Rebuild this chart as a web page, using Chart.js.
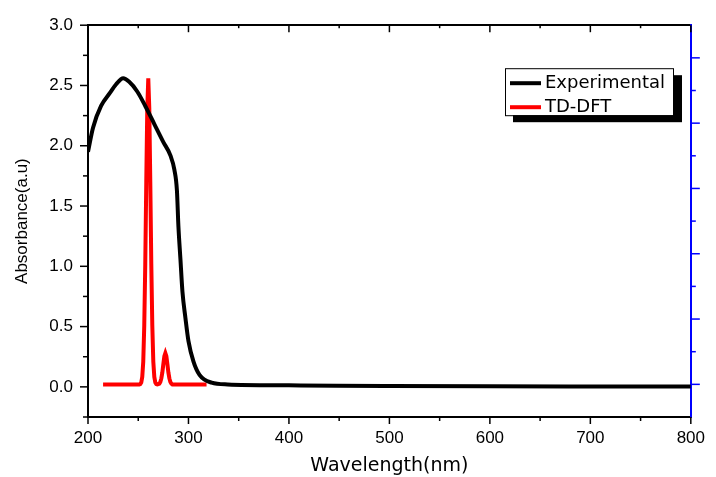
<!DOCTYPE html>
<html>
<head>
<meta charset="utf-8">
<script src="https://cdn.jsdelivr.net/npm/chart.js@4.4.1/dist/chart.umd.min.js"></script>
<style>
  body { margin: 0; background: #fff; }
  #wrap { width: 716px; height: 477px; }
</style>
</head>
<body>
<div id="wrap"><canvas id="spectrum" width="716" height="477"></canvas></div>
<script>
// measured spectrum (black)
const expWavelength = [200, 205, 213, 222, 228, 235, 241, 249, 257, 266, 275, 282, 286, 288.5, 290, 292, 294, 297, 300, 305, 311, 323, 339, 400, 447, 500, 600, 700, 800];
const expAbsorbance = [1.95, 2.15, 2.33, 2.44, 2.51, 2.56, 2.53, 2.45, 2.33, 2.18, 2.03, 1.92, 1.80, 1.63, 1.33, 1.06, 0.79, 0.57, 0.38, 0.21, 0.10, 0.035, 0.02, 0.013, 0.01, 0.008, 0.005, 0.003, 0.002];

// computed spectrum (red)
const dftWavelength = [215, 251, 252, 253, 254, 255, 256, 257, 258, 259, 260, 261, 262, 263, 264, 265, 266, 267, 268, 269, 270, 271, 272, 273, 274, 275, 276, 277, 278, 279, 280, 281, 282, 283, 284, 318];
const dftAbsorbance = [0.02, 0.02, 0.023, 0.036, 0.082, 0.21, 0.51, 1.02, 1.70, 2.31, 2.56, 2.31, 1.70, 1.02, 0.51, 0.21, 0.082, 0.036, 0.023, 0.02, 0.022, 0.026, 0.04, 0.07, 0.12, 0.19, 0.255, 0.28, 0.255, 0.19, 0.12, 0.07, 0.04, 0.026, 0.02, 0.02];

const seriesNames = ['Experimental', 'TD-DFT'];
const xTickLabels = [200, 300, 400, 500, 600, 700, 800];
const yTickLabels = [0.0, 0.5, 1.0, 1.5, 2.0, 2.5, 3.0];

const toPoints = (xs, ys) => xs.map((x, i) => ({x: x, y: ys[i]}));

//draws the small tick marks (major + minor) on all four sides
function drawMarks(ctx, scale, from, to, step, major, base, sign, bigLen, smallLen) {
	for (let v = from; v <= to + 1e-9; v += step) {
		const r = v / major;
		const isMajor = Math.abs(r - Math.round(r)) < 1e-6;
		const len = isMajor ? bigLen : smallLen;
		const p = scale.getPixelForValue(v);
		ctx.beginPath();
		if (scale.isHorizontal()) {
			ctx.moveTo(p, base);
			ctx.lineTo(p, base + sign * len);
		} else {
			ctx.moveTo(base, p);
			ctx.lineTo(base + sign * len, p);
		}
		ctx.stroke();
	}
}

const tickMarks = {
	id: 'tickMarks',
	afterDraw(chart) {
		const ctx = chart.ctx;
		const area = chart.chartArea;
		const s = chart.scales;
		ctx.save();
		ctx.lineWidth = 1.5;
		ctx.strokeStyle = '#000';
		drawMarks(ctx, s.x, 200, 800, 50, 100, area.bottom, 1, 7, 4);
		drawMarks(ctx, s.x2, 200, 800, 50, 100, area.top, 1, 7, 3);
		drawMarks(ctx, s.y, -0.25, 3.0, 0.25, 0.5, area.left, -1, 8, 5);
		ctx.strokeStyle = '#0000ff';
		drawMarks(ctx, s.y2, 0, 5, 0.5, 1, area.right, 1, 9, 5);
		ctx.restore();
	}
};

// boxed legend with a drop shadow, top right of the plot
const boxLegend = {
	id: 'boxLegend',
	afterDraw(chart) {
		const ctx = chart.ctx;
		const area = chart.chartArea;
		const bx = area.left + 417, by = area.top + 43, bw = 168, bh = 47;
		ctx.save();
		ctx.fillStyle = '#000';
		ctx.fillRect(bx + 8, by + 7, bw + 1, bh);
		ctx.fillStyle = '#fff';
		ctx.fillRect(bx, by, bw, bh);
		ctx.lineWidth = 1;
		ctx.strokeStyle = '#000';
		ctx.strokeRect(bx + 0.5, by + 0.5, bw, bh);
		ctx.font = '18px "DejaVu Sans"';
		ctx.textBaseline = 'middle';
		chart.data.datasets.forEach((ds, i) => {
			const ly = by + 15 + i * 24;
			ctx.strokeStyle = ds.borderColor;
			ctx.lineWidth = 4;
			ctx.beginPath();
			ctx.moveTo(bx + 5, ly);
			ctx.lineTo(bx + 36, ly);
			ctx.stroke();
			ctx.fillStyle = '#000';
			ctx.fillText(ds.label, bx + 40, ly);
		});
		ctx.restore();
	}
};

const tickFont = {family: '"Liberation Sans", Arial, sans-serif', size: 17};

new Chart(document.getElementById('spectrum').getContext('2d'), {
	type: 'line',
	data: {
		datasets: [{
			label: seriesNames[0],
			data: toPoints(expWavelength, expAbsorbance),
			borderColor: '#000000',
			borderWidth: 4,
			pointRadius: 0,
			cubicInterpolationMode: 'monotone',
			fill: false
		}, {
			label: seriesNames[1],
			data: toPoints(dftWavelength, dftAbsorbance),
			borderColor: '#ff0000',
			borderWidth: 4,
			pointRadius: 0,
			tension: 0,
			fill: false
		}]
	},
	options: {
		responsive: false,
		animation: false,
		layout: {padding: 0},
		plugins: {legend: {display: false}, tooltip: {enabled: false}},
		scales: {
			x: {
				type: 'linear', position: 'bottom', min: 200, max: 800,
				afterFit: (s) => { s.height = 60; },
				afterBuildTicks: (s) => { s.ticks = xTickLabels.map(v => ({value: v})); },
				grid: {display: false, drawTicks: false},
				border: {display: true, color: '#000', width: 2},
				ticks: {color: '#000', font: tickFont, padding: 11, maxRotation: 0},
				title: {display: true, text: 'Wavelength(nm)', color: '#000', font: {family: '"DejaVu Sans"', size: 19}, padding: {top: 0, bottom: 0}}
			},
			x2: {
				type: 'linear', position: 'top', min: 200, max: 800,
				afterFit: (s) => { s.height = 20; },
				grid: {display: false, drawTicks: false},
				border: {display: true, color: '#000', width: 2},
				ticks: {display: false}
			},
			y: {
				type: 'linear', position: 'left', min: -0.25, max: 3.0,
				afterFit: (s) => { s.width = 88; },
				afterBuildTicks: (s) => { s.ticks = yTickLabels.map(v => ({value: v})); },
				grid: {display: false, drawTicks: false},
				border: {display: true, color: '#000', width: 2},
				ticks: {color: '#000', font: tickFont, padding: 15, callback: (v) => v.toFixed(1)},
				title: {display: true, text: 'Absorbance(a.u)', color: '#000', font: {family: '"Liberation Sans", Arial, sans-serif', size: 17}, padding: {top: 12, bottom: 0}}
			},
			y2: {
				type: 'linear', position: 'right', min: -0.5, max: 5.5,
				afterFit: (s) => { s.width = 16; },
				grid: {display: false, drawTicks: false},
				border: {display: true, color: '#0000ff', width: 2},
				ticks: {display: false}
			}
		}
	},
	plugins: [tickMarks, boxLegend]
});
</script>
</body>
</html>
